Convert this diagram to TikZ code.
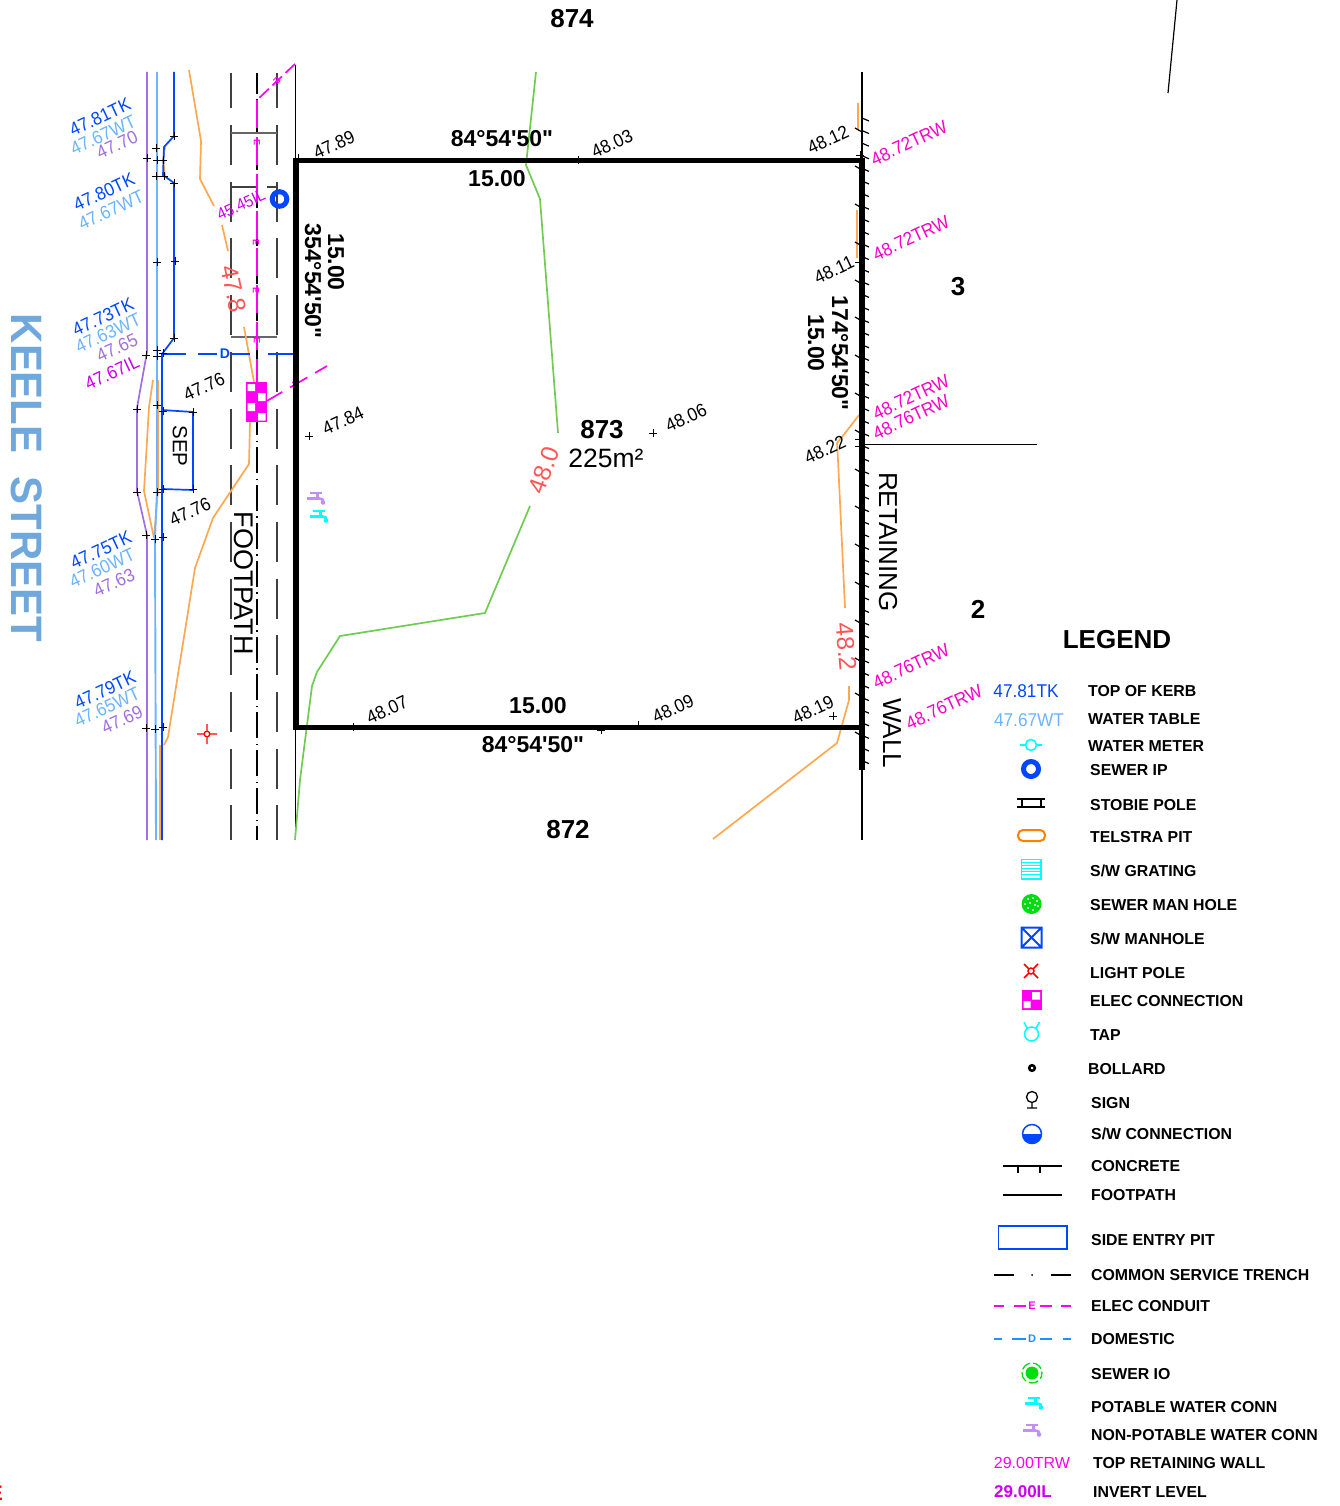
\documentclass[tikz,border=0pt]{standalone}
\usepackage{fontspec}
\setmainfont{Liberation Sans}[Ligatures=TeXOff]
\definecolor{cblue}{HTML}{0047FF}
\definecolor{clight}{HTML}{6CB4FF}
\definecolor{cpurple}{HTML}{A070E0}
\definecolor{corange}{HTML}{FFA852}
\definecolor{cgreen}{HTML}{70CC50}
\definecolor{cmag}{HTML}{FF00C8}
\definecolor{cil}{HTML}{CC00F0}
\definecolor{celec}{HTML}{FF00F0}
\definecolor{cred}{HTML}{FF5555}
\definecolor{ccyan}{HTML}{00FFFF}
\definecolor{cnon}{HTML}{C090F5}
\definecolor{cdom}{HTML}{1E90FF}
\definecolor{csew}{HTML}{00DD10}
\definecolor{ckeele}{HTML}{6FA8DC}
\tikzset{
  x=1pt,y=-1pt,
  medline/.style={line width=1.7pt},
  spotlabel/.style={inner sep=0pt,font=\fontsize{18.5}{18.5}\selectfont},
  smalllabel/.style={inner sep=0pt,font=\fontsize{16.5}{16.5}\selectfont},
  boldlabel/.style={inner sep=0pt,font=\fontsize{23}{23}\bfseries\selectfont},
  lotlabel/.style={inner sep=0pt,font=\fontsize{26}{26}\bfseries\selectfont},
  thinname/.style={inner sep=0pt,font=\fontsize{26}{26}\selectfont},
  legendtxt/.style={inner sep=0pt,anchor=west,font=\fontsize{15.85}{16}\bfseries\selectfont},
  contourtxt/.style={inner sep=0pt,text=cred,font=\fontsize{24.5}{24.5}\selectfont},
  footdash/.style={line width=1.4pt,black!75,dash pattern=on 40pt off 16.7pt,dash phase=4.7pt},
  tapshape/.pic={
    \draw[line width=2.2pt,pic actions] (-5,-4) -- (7,-4);
    \draw[line width=3pt,pic actions] (2,-4) -- (2,1.5);
    \draw[line width=3.4pt,pic actions] (-8,1.5) -- (5,1.5);
    \draw[line width=2.6pt,pic actions] (5,1.5) -- (7.5,2.5) -- (8,5);
    \fill[pic actions] (8,5.5) circle (2.3);
  }
}
\newcommand{\spotlab}[6]{\node[spotlabel,text=#2,rotate=#3,xscale=.93] (#1) at (#4,#5) {#6};}
\newcommand{\legtxt}[4]{\node[legendtxt,yshift=-1pt] (#1) at (#2,#3) {#4};}
\newcommand{\crs}[2]{\draw[black,line width=0.9pt] (#1-4,#2) -- (#1+4,#2) (#1,#2-4) -- (#1,#2+4);}
\newcommand{\emark}[3]{\node[inner sep=0pt,text=celec,rotate=#3,font=\fontsize{9}{9}\bfseries\selectfont] at (#1,#2) {E};}
\begin{document}
\begin{tikzpicture}
\useasboundingbox (0,0) rectangle (1340,1506);
% outside lines
\draw[black,line width=1.2pt] (1168,93) -- (1177,0);
\draw[black,line width=1pt] (862,444) -- (1037,444);
\draw[black,line width=1pt] (295,65) -- (295,840);
\draw[black,line width=1.2pt] (862,72) -- (862,840);
% footpath
\draw[footdash] (231,73) -- (231,840);
\draw[footdash] (277,73) -- (277,840);
\draw[black,line width=1.3pt,dash pattern=on 26pt off 5.5pt on 1.5pt off 4.9pt,dash phase=5pt] (257,73) -- (257,840);
\draw[black!60,line width=1.2pt] (231,133) -- (277,133) (231,337) -- (277,337);
\draw[black!75,line width=1.2pt] (231,187) -- (257,187) (267,187) -- (277,187);
% kerb
\draw[cpurple,medline] (147,72) -- (147,352) -- (137,408) -- (137,491) -- (147,535) -- (147,840);
\draw[corange,medline] (153,380) -- (149,407) -- (144,491) -- (154,538);
\draw[corange,medline] (158,380) -- (158,490) -- (154,538);
\draw[corange,medline] (165,147) -- (163,160) -- (165,175);
\draw[corange,medline] (160,745) -- (160,840);
\draw[clight,line width=1.9pt] (157,72) -- (157,490) -- (155,538) -- (156,840);
\draw[cblue,medline] (174,72) -- (174,136) -- (164,147) -- (163,175) -- (174,183) -- (174,338) -- (162,354) -- (162,840);
\draw[cblue,medline] (162,410) -- (193,412) -- (193,490) -- (162,489);
% orange contours
\draw[corange,medline] (189,70) -- (201,141) -- (200,179) -- (214,206);
\draw[corange,medline] (222,225) -- (228,251);
\draw[corange,medline] (244,327) -- (254,382);
\draw[corange,medline] (250,422) -- (249,464) -- (213,518) -- (195,568) -- (168,737) -- (164,745);
\draw[corange,line width=2.6pt] (858,103) -- (858,130);
\draw[corange,medline] (857,210) -- (857,258);
\draw[corange,medline] (859,415) -- (842,437) -- (837,443) -- (838,460) -- (845,608);
\draw[corange,medline] (849,686) -- (849,700) -- (837,743) -- (713,839);
\draw[corange,medline] (860,730) -- (860,770);
% green contours
\draw[cgreen,medline] (536,72) -- (526,165) -- (540,199) -- (558,433);
\draw[cgreen,medline] (530,506) -- (485,613) -- (340,636) -- (317,672) -- (312,686) -- (300,780) -- (295,840);
% domestic line
\draw[cblue,medline] (163,354) -- (186,354) (198,354) -- (217,354) (232,354) -- (250,354) (268,354) -- (296,354);
\node[inner sep=0pt,text=cblue,font=\fontsize{14}{14}\bfseries\selectfont] (dmark) at (225,354) {D};
% elec conduit
\draw[celec,medline,dash pattern=on 13pt off 5pt] (295,64) -- (257,100);
\draw[celec,medline,dash pattern=on 28pt off 9pt] (257,100) -- (257,382);
\draw[celec,medline,dash pattern=on 20pt off 9pt] (265,402) -- (327,366);
\emark{277}{81}{-135}\emark{257}{143}{-90}\emark{256}{243}{-90}\emark{256}{291}{-90}\emark{257}{341}{-90}\emark{296}{383}{-120}
% elec connection
\fill[celec] (246,382) rectangle (267,422);
\fill[white] (247.5,384) rectangle (255,391) (258,393) rectangle (265.5,401) (247.5,403) rectangle (255,411) (258,413) rectangle (265.5,420.5);
% sewer IP
\draw[cblue,line width=5pt] (279.5,199) circle (7.3);
% light pole
\draw[red,line width=1.3pt] (207,734) circle (2.8) (197,734) -- (204,734) (210,734) -- (217,734) (207,724) -- (207,731) (207,737) -- (207,744);
% lot
\draw[black,line width=5.5pt,line join=miter] (296,160.5) -- (862,160.5) -- (862,727.5) -- (296,727.5) -- cycle;
\draw[black,line width=5.5pt] (862,160) -- (862,770);
% retaining wall ticks
\foreach \y in {119,131.6,...,770} {\draw[black,line width=1.2pt] (862,\y-1) -- (869,\y+2);}
\foreach \y in {131,169,207,245,283,320,358,396,433,472,509,547,585,623,661,696,735} {\draw[black,line width=1.2pt] (855,\y-3) -- (862,\y+1);}
\crs{860}{155}\crs{859}{262}\crs{859}{439}\crs{859}{446}
% spot crosses
\crs{147}{158}\crs{156}{148}\crs{163}{160}\crs{157}{160}\crs{156}{176}\crs{164}{176}\crs{174}{136}\crs{174}{183}\crs{157}{262}\crs{175}{261}\crs{174}{338}\crs{146}{355}\crs{163}{353}\crs{157}{350}\crs{157}{356}
\crs{137}{409}\crs{157}{405}\crs{163}{411}\crs{193}{412}\crs{137}{492}\crs{157}{492}\crs{163}{489}\crs{193}{489}\crs{146}{535}\crs{155}{539}\crs{163}{537}\crs{146}{728}\crs{155}{729}\crs{163}{727}
\crs{309}{436}\crs{653}{433}\crs{578}{160}\crs{353}{727}\crs{638}{725}\crs{601}{730}\crs{833}{716}\crs{298}{158}
% taps
\pic[color=cnon,fill=cnon] at (315,497) {tapshape};
\pic[color=ccyan,fill=ccyan] at (318,515) {tapshape};
% contour labels
\node[contourtxt,rotate=70] (c480) at (544,470) {48.0};
\node[contourtxt,rotate=-78] (c478) at (234,289) {47.8};
\node[contourtxt,rotate=-85] (c482) at (846,647) {48.2};
% street & road text
\node[inner sep=0pt,text=ckeele,rotate=-90,xscale=.953,font=\fontsize{44}{44}\bfseries\selectfont] (keele) at (27,478) {KEELE\ \ STREET};
\node[thinname,rotate=-90,font=\fontsize{27}{27}\selectfont] (foot) at (244,583) {FOOTPATH};
\node[thinname,rotate=-90] (ret) at (888,542) {RETAINING};
\node[thinname,rotate=-90] (wall) at (892,733) {WALL};
\node[inner sep=0pt,rotate=-90,font=\fontsize{20.5}{20.5}\selectfont] (sep) at (180,446) {SEP};
% lot labels
\node[lotlabel] (l874) at (572,19) {874};
\node[lotlabel] (l872) at (568,830) {872};
\node[lotlabel] (l873) at (602,430) {873};
\node[inner sep=0pt,font=\fontsize{26.5}{26.5}\selectfont] (area) at (606,458) {225m²};
\node[lotlabel] (l3) at (958,287) {3};
\node[lotlabel] (l2) at (978,609) {2};
\node[boldlabel] (b1) at (502,139) {84°54'50"};
\node[boldlabel] (d1) at (497,179) {15.00};
\node[boldlabel] (b2) at (533,745) {84°54'50"};
\node[boldlabel] (d2) at (538,706) {15.00};
\node[boldlabel,rotate=-90] (d3) at (336,262) {15.00};
\node[boldlabel,rotate=-90] (b3) at (313,281) {354°54'50"};
\node[boldlabel,rotate=-90] (b4) at (840,353) {174°54'50"};
\node[boldlabel,rotate=-90] (d4) at (816,343) {15.00};
% spot labels
\spotlab{s1}{cblue}{25}{100}{117}{47.81TK}
\spotlab{s2}{clight}{25}{103}{135}{47.67WT}
\spotlab{s3}{cpurple}{25}{117}{145}{47.70}
\spotlab{s4}{cblue}{25}{104}{192}{47.80TK}
\spotlab{s5}{clight}{25}{111}{210}{47.67WT}
\spotlab{s6}{cblue}{25}{103}{317}{47.73TK}
\spotlab{s7}{clight}{25}{108}{333}{47.63WT}
\spotlab{s8}{cpurple}{25}{117}{348}{47.65}
\spotlab{s9}{cil}{25}{112}{373}{47.67IL}
\spotlab{s10}{black}{25}{204}{387}{47.76}
\spotlab{s11}{black}{25}{190}{512}{47.76}
\spotlab{s12}{cblue}{25}{101}{550}{47.75TK}
\spotlab{s13}{clight}{25}{102}{568}{47.60WT}
\spotlab{s14}{cpurple}{25}{114}{583}{47.63}
\spotlab{s15}{cblue}{25}{105}{690}{47.79TK}
\spotlab{s16}{clight}{25}{107}{707}{47.65WT}
\spotlab{s17}{cpurple}{25}{122}{720}{47.69}
\node[smalllabel,text=cil,rotate=25,xscale=.93] (s18) at (241,205) {45.45IL};
\spotlab{s19}{black}{25}{334}{145}{47.89}
\spotlab{s20}{black}{25}{612}{144}{48.03}
\spotlab{s21}{black}{25}{828}{140}{48.12}
\spotlab{s22}{cmag}{25}{909}{143}{48.72TRW}
\spotlab{s23}{cmag}{25}{911}{238}{48.72TRW}
\spotlab{s24}{black}{25}{834}{270}{48.11}
\spotlab{s25}{cmag}{25}{911}{397}{48.72TRW}
\spotlab{s26}{cmag}{25}{911}{417}{48.76TRW}
\spotlab{s27}{black}{25}{825}{450}{48.22}
\spotlab{s28}{black}{25}{343}{421}{47.84}
\spotlab{s29}{black}{25}{686}{418}{48.06}
\spotlab{s30}{black}{25}{387}{710}{48.07}
\spotlab{s31}{black}{25}{673}{709}{48.09}
\spotlab{s32}{black}{25}{813}{710}{48.19}
\spotlab{s33}{cmag}{25}{911}{666}{48.76TRW}
\spotlab{s34}{cmag}{25}{944}{707}{48.76TRW}
% legend
\node[inner sep=0pt,font=\fontsize{26}{26}\bfseries\selectfont] (legend) at (1117,640) {LEGEND};
\spotlab{k1}{cblue}{0}{1026}{691}{47.81TK}
\spotlab{k2}{clight}{0}{1029}{720}{47.67WT}
\node[spotlabel,text=celec,font=\fontsize{16}{16}\selectfont] (k3) at (1032,1463) {29.00TRW};
\node[spotlabel,text=cil,font=\fontsize{17}{17}\bfseries\selectfont] (k4) at (1023,1492) {29.00IL};
\node[inner sep=0pt,anchor=east,text=red,font=\fontsize{21}{21}\bfseries\selectfont] (edge) at (3,1493) {E};
\legtxt{t1}{1088}{690}{TOP OF KERB}
\legtxt{t2}{1088}{718}{WATER TABLE}
\legtxt{t3}{1088}{745}{WATER METER}
\legtxt{t4}{1090}{769}{SEWER IP}
\legtxt{t5}{1090}{804}{STOBIE POLE}
\legtxt{t6}{1090}{836}{TELSTRA PIT}
\legtxt{t7}{1090}{870}{S/W GRATING}
\legtxt{t8}{1090}{904}{SEWER MAN HOLE}
\legtxt{t9}{1090}{938}{S/W MANHOLE}
\legtxt{t10}{1090}{972}{LIGHT POLE}
\legtxt{t11}{1090}{1000}{ELEC CONNECTION}
\legtxt{t12}{1090}{1034}{TAP}
\legtxt{t13}{1088}{1068}{BOLLARD}
\legtxt{t14}{1091}{1102}{SIGN}
\legtxt{t15}{1091}{1133}{S/W CONNECTION}
\legtxt{t16}{1091}{1165}{CONCRETE}
\legtxt{t17}{1091}{1194}{FOOTPATH}
\legtxt{t18}{1091}{1239}{SIDE ENTRY PIT}
\legtxt{t19}{1091}{1274}{COMMON SERVICE TRENCH}
\legtxt{t20}{1091}{1305}{ELEC CONDUIT}
\legtxt{t21}{1091}{1338}{DOMESTIC}
\legtxt{t22}{1091}{1373}{SEWER IO}
\legtxt{t23}{1091}{1406}{POTABLE WATER CONN}
\legtxt{t24}{1091}{1434}{NON-POTABLE WATER CONN}
\legtxt{t25}{1093}{1462}{TOP RETAINING WALL}
\legtxt{t26}{1093}{1491}{INVERT LEVEL}
% legend symbols
\draw[ccyan,line width=1.6pt] (1031,745) circle (5.5) (1020,745) -- (1025.5,745) (1036.5,745) -- (1042,745);
\draw[cblue,line width=5pt] (1031,769) circle (7.5);
\draw[black,line width=1.3pt] (1017,799) -- (1045,799) (1017,807) -- (1045,807) (1022,799) -- (1022,807) (1041,799) -- (1041,807);
\draw[orange,line width=2pt,rounded corners=5pt] (1018,830) rectangle (1045,841);
\draw[ccyan,line width=1.4pt] (1021.5,859.5) rectangle (1041,879);
\foreach \y in {862.5,865.5,...,877} {\draw[ccyan,line width=1.2pt] (1021.5,\y) -- (1041,\y);}
\fill[csew] (1031.5,904) circle (10);
\foreach \a/\b in {1028/899,1033/898,1037/901,1025/904,1030/903,1035/905,1028/908,1033/910,1038/906} {\fill[white] (\a,\b) circle (1.2);}
\draw[cblue,line width=2pt] (1021.5,927.5) rectangle (1041.5,947.5) (1021.5,927.5) -- (1041.5,947.5) (1041.5,927.5) -- (1021.5,947.5);
\draw[red,line width=1.5pt] (1031,971) circle (3) (1024,964) -- (1029,969) (1038,964) -- (1033,969) (1024,978) -- (1029,973) (1038,978) -- (1033,973);
\fill[celec] (1021.5,990) rectangle (1042,1010);
\fill[white] (1032,992) rectangle (1040,999.5) (1023.5,1001) rectangle (1030.5,1008);
\draw[ccyan,line width=1.5pt] (1031.5,1034) circle (7) (1024,1022) -- (1027,1028) (1039.5,1022) -- (1036,1028);
\draw[black,line width=2.5pt] (1032,1068) circle (2.8);
\draw[black,line width=1.3pt] (1032,1097) circle (5.5) (1032,1102.5) -- (1032,1108) (1027,1108) -- (1037,1108);
\draw[cblue,line width=1.5pt] (1032,1134) circle (9.5);
\fill[cblue] (1022.5,1134) arc[start angle=180,end angle=0,radius=9.5] -- cycle;
\draw[black,line width=1.4pt] (1003,1166) -- (1062,1166) (1018,1166) -- (1018,1173) (1040,1166) -- (1040,1173);
\draw[black,line width=1.2pt] (1003,1195) -- (1062,1195);
\draw[cblue,line width=1.5pt] (998.5,1226) rectangle (1067,1249);
\draw[black,line width=1.5pt] (994,1275) -- (1014,1275) (1051,1275) -- (1071,1275);
\fill[black] (1032,1275) circle (1);
\draw[celec,line width=1.5pt] (994,1306) -- (1004,1306) (1014,1306) -- (1026,1306) (1040,1306) -- (1052,1306) (1061,1306) -- (1071,1306);
\node[inner sep=0pt,text=celec,font=\fontsize{11}{11}\bfseries\selectfont] (ke) at (1032,1306) {E};
\draw[cdom,line width=1.5pt] (994,1339) -- (1002,1339) (1012,1339) -- (1026,1339) (1040,1339) -- (1052,1339) (1063,1339) -- (1071,1339);
\node[inner sep=0pt,text=cdom,font=\fontsize{11}{11}\bfseries\selectfont] (kd) at (1032,1339) {D};
\fill[csew] (1032,1373) circle (6.5);
\draw[csew,line width=1.3pt,dash pattern=on 10pt off 3pt,dash phase=4pt] (1032,1373) circle (10);
\pic[color=ccyan,fill=ccyan] at (1033,1402) {tapshape};
\pic[color=cnon,fill=cnon] at (1031,1429) {tapshape};
\end{tikzpicture}
\end{document}
